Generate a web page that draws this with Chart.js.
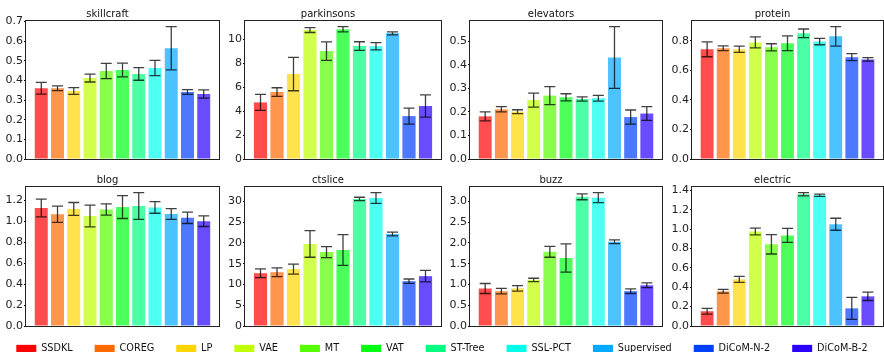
<!DOCTYPE html>
<html>
<head>
<meta charset="utf-8">
<script src="https://cdn.jsdelivr.net/npm/chart.js@4/dist/chart.umd.min.js"></script>
<style>
  html, body { margin: 0; padding: 0; background: #fff; }
  body { width: 884px; height: 355px; position: relative; overflow: hidden; }
  canvas { position: absolute; }
</style>
</head>
<body>
<script>
// Methods compared in every panel
const methods = ['SSDKL', 'COREG', 'LP', 'VAE', 'MT', 'VAT', 'ST-Tree', 'SSL-PCT', 'Supervised', 'DiCoM-N-2', 'DiCoM-B-2'];

// Mean RMSE and standard deviation per dataset
const skillcraftMean = [0.36, 0.36, 0.346, 0.412, 0.448, 0.453, 0.433, 0.463, 0.564, 0.341, 0.331];
const skillcraftErr  = [0.03, 0.012, 0.017, 0.02, 0.039, 0.035, 0.032, 0.039, 0.11, 0.012, 0.021];

const parkinsonsMean = [4.72, 5.58, 7.08, 10.75, 9.0, 10.82, 9.42, 9.4, 10.48, 3.58, 4.42];
const parkinsonsErr  = [0.67, 0.36, 1.39, 0.2, 0.77, 0.22, 0.36, 0.3, 0.13, 0.67, 0.92];

const elevatorsMean = [0.181, 0.211, 0.201, 0.25, 0.269, 0.262, 0.255, 0.258, 0.431, 0.178, 0.193];
const elevatorsErr  = [0.019, 0.011, 0.008, 0.03, 0.038, 0.015, 0.009, 0.012, 0.131, 0.03, 0.029];

const proteinMean = [0.743, 0.75, 0.744, 0.79, 0.757, 0.784, 0.852, 0.796, 0.831, 0.69, 0.675];
const proteinErr  = [0.05, 0.016, 0.021, 0.037, 0.024, 0.05, 0.029, 0.022, 0.066, 0.024, 0.012];

const blogMean = [1.13, 1.07, 1.12, 1.053, 1.115, 1.138, 1.148, 1.135, 1.072, 1.035, 1.003];
const blogErr  = [0.085, 0.078, 0.062, 0.104, 0.053, 0.109, 0.128, 0.056, 0.051, 0.054, 0.051];

const ctsliceMean = [12.7, 12.95, 13.7, 19.75, 17.8, 18.3, 30.6, 30.8, 22.15, 10.8, 12.0];
const ctsliceErr  = [1.05, 1.05, 1.2, 3.2, 1.33, 3.7, 0.4, 1.3, 0.45, 0.52, 1.4];

const buzzMean = [0.903, 0.839, 0.906, 1.11, 1.785, 1.635, 3.11, 3.09, 2.03, 0.839, 0.98];
const buzzErr  = [0.12, 0.065, 0.064, 0.04, 0.13, 0.34, 0.07, 0.12, 0.045, 0.057, 0.057];

const electricMean = [0.152, 0.358, 0.482, 0.975, 0.843, 0.935, 1.359, 1.349, 1.05, 0.182, 0.306];
const electricErr  = [0.03, 0.019, 0.031, 0.035, 0.1, 0.072, 0.017, 0.012, 0.062, 0.114, 0.043];

// Panel titles and tick settings
const panelTitles = ['skillcraft', 'parkinsons', 'elevators', 'protein', 'blog', 'ctslice', 'buzz', 'electric'];
const panelMeans = [skillcraftMean, parkinsonsMean, elevatorsMean, proteinMean, blogMean, ctsliceMean, buzzMean, electricMean];
const panelErrs  = [skillcraftErr, parkinsonsErr, elevatorsErr, proteinErr, blogErr, ctsliceErr, buzzErr, electricErr];
const tickSteps  = [0.1, 2, 0.1, 0.2, 0.2, 5, 0.5, 0.2];
const tickDecimals = [1, 0, 1, 1, 1, 0, 1, 1];

// ---- styling / layout ----
const hues = methods.map((_, i) => i * 25);
const solidColors = hues.map(h => `hsl(${h}, 100%, 50%)`);
const barColors = hues.map(h => `hsla(${h}, 100%, 50%, 0.7)`);

const FONT = 'DejaVu Sans';
const AXIS_W = 30;
const colLeft  = [26, 245, 470, 692];
const colRight = [219, 441, 662, 883];
const rowTop = [20, 186];
const rowBottom = [159, 326];
const TITLE_BLOCK = 13;
const PAD_BOTTOM = 8;
const PAD_RIGHT = 1;

Chart.defaults.font.family = FONT;
Chart.defaults.animation = false;

// Error bars with caps, drawn from the y scale
const errorBars = {
  id: 'errorBars',
  afterDatasetsDraw(chart, args, opts) {
    const { ctx } = chart;
    const meta = chart.getDatasetMeta(0);
    const y = chart.scales.y;
    const errs = opts.errors;
    const means = chart.data.datasets[0].data.map(d => d.y);
    ctx.save();
    ctx.strokeStyle = 'rgba(0,0,0,0.75)';
    ctx.lineWidth = 1.3;
    meta.data.forEach((bar, i) => {
      const x = bar.x;
      const top = y.getPixelForValue(means[i] + errs[i]);
      const bot = y.getPixelForValue(means[i] - errs[i]);
      const cap = 5.5;
      ctx.beginPath();
      ctx.moveTo(x, top); ctx.lineTo(x, bot);
      ctx.moveTo(x - cap, top); ctx.lineTo(x + cap, top);
      ctx.moveTo(x - cap, bot); ctx.lineTo(x + cap, bot);
      ctx.stroke();
    });
    ctx.restore();
  }
};

// Axes frame around the plotting area
const frame = {
  id: 'frame',
  afterDraw(chart) {
    const { ctx, chartArea: a } = chart;
    ctx.save();
    ctx.strokeStyle = '#222';
    ctx.lineWidth = 1;
    ctx.strokeRect(Math.round(a.left) - 0.5, Math.round(a.top) + 0.5,
                   Math.round(a.right - a.left) + 1, Math.round(a.bottom - a.top));
    ctx.restore();
  }
};

panelTitles.forEach((title, p) => {
  const row = Math.floor(p / 4), col = p % 4;
  const means = panelMeans[p], errs = panelErrs[p];
  const yMax = Math.max(...means.map((m, i) => m + errs[i])) * 1.05;

  const canvas = document.createElement('canvas');
  const left = colLeft[col] - AXIS_W;
  const top = rowTop[row] - TITLE_BLOCK;
  const w = colRight[col] - colLeft[col] + AXIS_W + PAD_RIGHT;
  const h = rowBottom[row] + PAD_BOTTOM - top;
  canvas.width = w; canvas.height = h;
  canvas.style.left = left + 'px';
  canvas.style.top = top + 'px';
  document.body.appendChild(canvas);

  new Chart(canvas, {
    type: 'bar',
    data: {
      datasets: [{
        data: means.map((v, i) => ({ x: i, y: v })),
        backgroundColor: barColors,
        borderWidth: 0,
        barPercentage: 0.8,
        categoryPercentage: 1.0
      }]
    },
    options: {
      responsive: false,
      devicePixelRatio: 1,
      layout: { padding: { top: 0, left: 0, right: PAD_RIGHT, bottom: PAD_BOTTOM } },
      plugins: {
        legend: { display: false },
        tooltip: { enabled: false },
        title: {
          display: true, text: title, color: '#111',
          font: { size: 10, weight: 'normal', lineHeight: 1.2 },
          padding: { top: 1, bottom: 0 }
        },
        errorBars: { errors: errs }
      },
      scales: {
        x: { type: 'linear', min: -0.94, max: 10.94, display: false, offset: false },
        y: {
          min: 0, max: yMax,
          afterFit(scale) { scale.width = AXIS_W; },
          border: { display: false },
          grid: { drawOnChartArea: false, drawTicks: true, tickLength: 2, color: '#000', lineWidth: 1 },
          ticks: {
            stepSize: tickSteps[p], includeBounds: false, padding: 1,
            color: '#222', font: { size: 11 },
            callback: v => Number(v).toFixed(tickDecimals[p])
          }
        }
      }
    },
    plugins: [errorBars, frame]
  });
});

// Shared legend row (canvas is wider than the page so the single row never wraps)
const legendCanvas = document.createElement('canvas');
legendCanvas.width = 944; legendCanvas.height = 60;
legendCanvas.style.left = '-30px';
legendCanvas.style.top = '322px';
document.body.appendChild(legendCanvas);
new Chart(legendCanvas, {
  type: 'bar',
  data: {
    labels: [],
    datasets: methods.map((m, i) => ({ label: m, data: [], backgroundColor: solidColors[i], borderWidth: 0 }))
  },
  options: {
    responsive: false,
    devicePixelRatio: 1,
    layout: { padding: 0 },
    scales: { x: { display: false }, y: { display: false } },
    plugins: {
      tooltip: { enabled: false },
      legend: {
        display: true, position: 'top',
        labels: {
          boxWidth: 20, boxHeight: 8, padding: 22, color: '#111',
          font: { size: 9.7 }
        }
      }
    }
  }
});
</script>
</body>
</html>
